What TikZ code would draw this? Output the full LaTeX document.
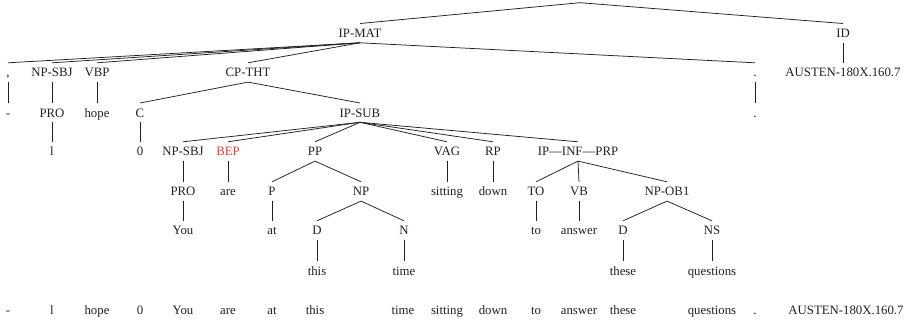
\documentclass[tikz,border=0pt]{standalone}
\usepackage{fontspec}
\setmainfont{Liberation Serif}
\definecolor{ink}{HTML}{231F20}
\definecolor{tagred}{RGB}{232,58,58}
\begin{document}
\begin{tikzpicture}[x=1pt,y=-1pt,
  lbl/.style={anchor=base, inner xsep=1pt, inner ysep=3pt,
    text height=10.8pt, text depth=2.1pt,
    font=\fontsize{12.8}{14}\selectfont, text=ink},
  br/.style={draw=ink, line width=0.75pt}]
\useasboundingbox (0,0) rectangle (919,322);

% root of the whole tree
\coordinate (top) at (580,2.7);

% level 1
\node[lbl] (ipmat) at (360,37.5) {IP-MAT};
\node[lbl] (id)    at (843,37.5) {ID};

% level 2
\node[lbl] (comma)  at (8,76.8)   {,};
\node[lbl] (npsbj)  at (52,76.8)  {NP-SBJ};
\node[lbl] (vbp)    at (97,76.8)  {VBP};
\node[lbl] (cptht)  at (248,76.8) {CP-THT};
\node[lbl] (stop)   at (755,76.8) {.};
\node[lbl] (austen) at (843,76.8) {AUSTEN-180X.160.7};

% level 3
\node[lbl] (dash)  at (8,117)   {-};
\node[lbl] (pro1)  at (52,117)  {PRO};
\node[lbl] (hope1) at (97,117)  {hope};
\node[lbl] (c)     at (140,117) {C};
\node[lbl] (ipsub) at (360,117) {IP-SUB};
\node[lbl] (stop2) at (755,117) {.};

% level 4
\node[lbl] (l1)     at (52,155.8)  {l};
\node[lbl] (zero1)  at (140,155.8) {0};
\node[lbl] (npsbj2) at (183,155.8) {NP-SBJ};
\node[lbl, text=tagred] (bep) at (228,155.8) {BEP};
\node[lbl] (pp)     at (315,155.8) {PP};
\node[lbl] (vag)    at (447,155.8) {VAG};
\node[lbl] (rp)     at (493,155.8) {RP};
\node[lbl] (ipinf)  at (578,155.8) {IP—INF—PRP};

% level 5
\node[lbl] (pro2)     at (183,195.8) {PRO};
\node[lbl] (are1)     at (228,195.8) {are};
\node[lbl] (p)        at (272,195.8) {P};
\node[lbl] (np)       at (361,195.8) {NP};
\node[lbl] (sitting1) at (447,195.8) {sitting};
\node[lbl] (down1)    at (493,195.8) {down};
\node[lbl] (to)       at (536,195.8) {TO};
\node[lbl] (vb)       at (579,195.8) {VB};
\node[lbl] (npob)     at (667,195.8) {NP-OB1};

% level 6
\node[lbl] (you1)    at (183,234.8) {You};
\node[lbl] (at1)     at (272,234.8) {at};
\node[lbl] (d1)      at (317,234.8) {D};
\node[lbl] (n)       at (404,234.8) {N};
\node[lbl] (to1)     at (536,234.8) {to};
\node[lbl] (answer1) at (579,234.8) {answer};
\node[lbl] (d2)      at (623,234.8) {D};
\node[lbl] (ns)      at (712,234.8) {NS};

% level 7
\node[lbl] (this1)      at (317,275) {this};
\node[lbl] (time1)      at (404,275) {time};
\node[lbl] (these1)     at (623,275) {these};
\node[lbl] (questions1) at (712,275) {questions};

% flat word line
\node[lbl] (w1)  at (8,314)   {-};
\node[lbl] (w2)  at (52,314)  {l};
\node[lbl] (w3)  at (97,314)  {hope};
\node[lbl] (w4)  at (140,314) {0};
\node[lbl] (w5)  at (183,314) {You};
\node[lbl] (w6)  at (228,314) {are};
\node[lbl] (w7)  at (272,314) {at};
\node[lbl] (w8)  at (315,314) {this};
\node[lbl] (w9)  at (403,314) {time};
\node[lbl] (w10) at (447,314) {sitting};
\node[lbl] (w11) at (493,314) {down};
\node[lbl] (w12) at (536,314) {to};
\node[lbl] (w13) at (579,314) {answer};
\node[lbl] (w14) at (623,314) {these};
\node[lbl] (w15) at (712,314) {questions};
\node[lbl] (w16) at (755,314) {.};
\node[lbl] (w17) at (846,314) {AUSTEN-180X.160.7};

% branches
\draw[br] (top) -- (ipmat.north);
\draw[br] (top) -- (id.north);
\foreach \k in {comma,npsbj,vbp,cptht,stop}
  \draw[br] (ipmat.south) -- (\k.north);
\draw[br] (id.south) -- (austen.north);
\draw[br] (comma.south) -- (dash.north);
\draw[br] (npsbj.south) -- (pro1.north);
\draw[br] (vbp.south) -- (hope1.north);
\draw[br] (stop.south) -- (stop2.north);
\draw[br] (cptht.south) -- (c.north);
\draw[br] (cptht.south) -- (ipsub.north);
\draw[br] (pro1.south) -- (l1.north);
\draw[br] (c.south) -- (zero1.north);
\foreach \k in {npsbj2,bep,pp,vag,rp,ipinf}
  \draw[br] (ipsub.south) -- (\k.north);
\draw[br] (npsbj2.south) -- (pro2.north);
\draw[br] (bep.south) -- (are1.north);
\draw[br] (pp.south) -- (p.north);
\draw[br] (pp.south) -- (np.north);
\draw[br] (vag.south) -- (sitting1.north);
\draw[br] (rp.south) -- (down1.north);
\foreach \k in {to,vb,npob}
  \draw[br] (ipinf.south) -- (\k.north);
\draw[br] (pro2.south) -- (you1.north);
\draw[br] (p.south) -- (at1.north);
\draw[br] (np.south) -- (d1.north);
\draw[br] (np.south) -- (n.north);
\draw[br] (to.south) -- (to1.north);
\draw[br] (vb.south) -- (answer1.north);
\draw[br] (npob.south) -- (d2.north);
\draw[br] (npob.south) -- (ns.north);
\draw[br] (d1.south) -- (this1.north);
\draw[br] (n.south) -- (time1.north);
\draw[br] (d2.south) -- (these1.north);
\draw[br] (ns.south) -- (questions1.north);
\end{tikzpicture}
\end{document}
